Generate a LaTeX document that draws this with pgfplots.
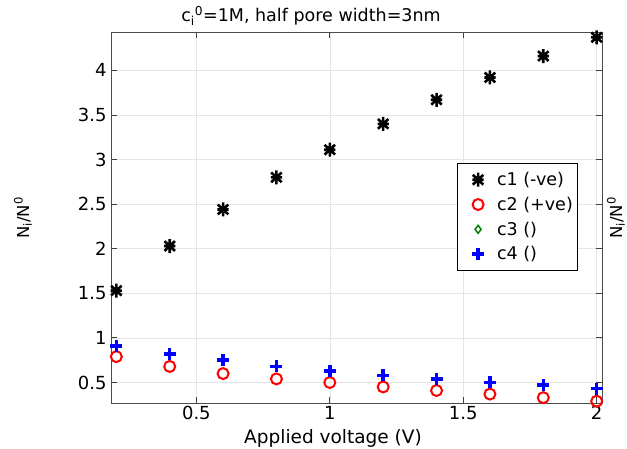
\documentclass[border=0pt]{standalone}
\usepackage{pgfplots}
\pgfplotsset{compat=1.18}
\usepackage{fontspec}
\setmainfont{DejaVu Sans}
\pgfdeclareplotmark{ast}{%
  \pgfpathmoveto{\pgfqpoint{0pt}{\pgfplotmarksize}}%
  \pgfpathlineto{\pgfqpoint{0pt}{-\pgfplotmarksize}}%
  \pgfpathmoveto{\pgfqpoint{0.75\pgfplotmarksize}{0.7\pgfplotmarksize}}%
  \pgfpathlineto{\pgfqpoint{-0.75\pgfplotmarksize}{-0.7\pgfplotmarksize}}%
  \pgfpathmoveto{\pgfqpoint{-0.75\pgfplotmarksize}{0.7\pgfplotmarksize}}%
  \pgfpathlineto{\pgfqpoint{0.75\pgfplotmarksize}{-0.7\pgfplotmarksize}}%
  \pgfpathmoveto{\pgfqpoint{-0.8\pgfplotmarksize}{0pt}}%
  \pgfpathlineto{\pgfqpoint{0.8\pgfplotmarksize}{0pt}}%
  \pgfusepathqstroke}
\begin{document}
\begin{tikzpicture}[x=1pt,y=1pt]
\useasboundingbox (-111,-46) rectangle (516,403);
\begin{axis}[
  at={(0,0)}, anchor=south west,
  scale only axis, width=491pt, height=371pt,
  xmin=0.18, xmax=2.02, ymin=0.27, ymax=4.43,
  xtick={0.5,1,1.5,2}, ytick={0.5,1,1.5,2,2.5,3,3.5,4},
  tick align=inside, major tick length=6pt,
  tick style={color=black!75, line width=0.8pt},
  axis line style={color=black!70, line width=0.9pt},
  grid=major, grid style={color=black!10, line width=0.6pt},
  /pgf/number format/assume math mode=true,
  tick label style={font=\fontsize{18}{20}\selectfont},
  yticklabel style={xshift=-1pt},
  legend style={at={(0.705,0.647)}, anchor=north west, draw=black, line width=0.8pt,
    font=\fontsize{17.5}{19}\selectfont, row sep=6pt, inner xsep=3pt, inner ysep=7pt,
    cells={anchor=west}, /tikz/every odd column/.append style={column sep=11pt}},
  legend image code/.code={\path[draw=none,fill=none] (-9pt,0) -- (0.3cm,0); \draw[#1] plot coordinates {(0.3cm,0cm)};},
  legend cell align=left,
  clip=false,
]
\addplot[only marks, mark=ast, mark size=7pt, line width=2.6pt, color=black] coordinates {
(0.2,1.53)(0.4,2.03)(0.6,2.44)(0.8,2.80)(1.0,3.11)(1.2,3.40)(1.4,3.67)(1.6,3.92)(1.8,4.16)(2.0,4.37)};
\addlegendentry{c1 (-ve)}
\addplot[only marks, mark=o, mark size=5.5pt, line width=2pt, color=red] coordinates {
(0.2,0.79)(0.4,0.68)(0.6,0.60)(0.8,0.54)(1.0,0.50)(1.2,0.45)(1.4,0.41)(1.6,0.37)(1.8,0.33)(2.0,0.29)};
\addlegendentry{c2 (+ve)}
\addlegendimage{only marks, mark=diamond, mark size=4pt, line width=1.5pt, color=green!50!black}
\addlegendentry{c3 ()}
\addplot[only marks, mark=+, mark size=6pt, line width=3.4pt, color=blue] coordinates {
(0.2,0.91)(0.4,0.82)(0.6,0.75)(0.8,0.68)(1.0,0.63)(1.2,0.58)(1.4,0.54)(1.6,0.50)(1.8,0.47)(2.0,0.43)};
\addlegendentry{c4 ()}
\end{axis}
\node[rotate=90, font=\fontsize{16.5}{18}\selectfont] at (-88,185) {N\textsubscript{i}/N\textsuperscript{0}};
\node[rotate=90, font=\fontsize{16.5}{18}\selectfont] at (505,185) {N\textsubscript{i}/N\textsuperscript{0}};
\node[font=\fontsize{17.5}{19}\selectfont] at (200,387) {c\textsubscript{i}\textsuperscript{0}=1M, half pore width=3nm};
\node[font=\fontsize{18.5}{20}\selectfont] at (222,-35) {Applied voltage (V)};
\end{tikzpicture}
\end{document}
